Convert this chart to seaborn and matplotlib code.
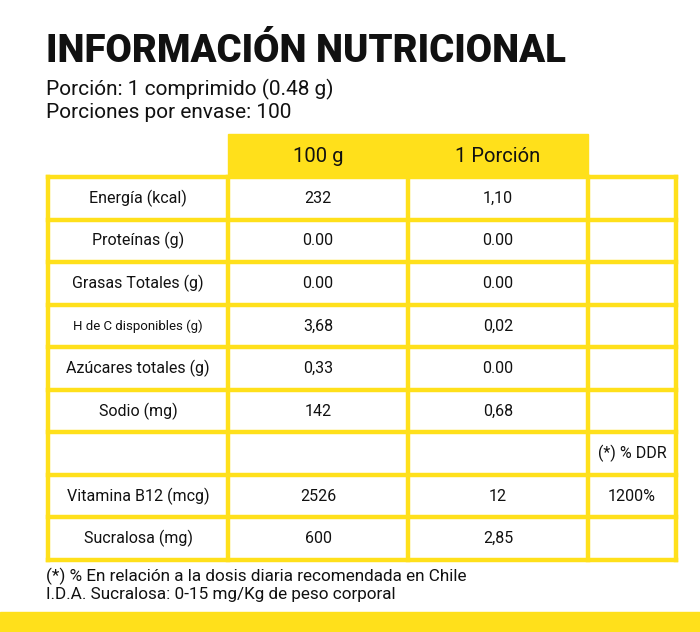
import matplotlib
matplotlib.use("Agg")
import matplotlib.pyplot as plt
from matplotlib.patches import Rectangle
import seaborn as sns

sns.set_theme(style="white")
yellow = "#FFE01B"

# data
headers = ["100 g", "1 Porción"]
nutrients = ["Energía (kcal)", "Proteínas (g)", "Grasas Totales (g)", "H de C disponibles (g)",
             "Azúcares totales (g)", "Sodio (mg)", "", "Vitamina B12 (mcg)", "Sucralosa (mg)"]
per_100g = ["232", "0.00", "0.00", "3,68", "0,33", "142", "", "2526", "600"]
per_portion = ["1,10", "0.00", "0.00", "0,02", "0.00", "0,68", "", "12", "2,85"]
ddr = ["", "", "", "", "", "", "(*) % DDR", "1200%", ""]

fig = plt.figure(figsize=(7, 6.32), dpi=100)
ax = fig.add_axes([0, 0, 1, 1])
ax.set_xlim(0, 700)
ax.set_ylim(632, 0)
ax.axis("off")

font = "Roboto"
ax.text(46, 52, "INFORMACIÓN NUTRICIONAL", fontsize=27.5, fontweight="black",
        family=font, va="center", ha="left", color="#111111")
ax.text(46, 89, "Porción: 1 comprimido (0.48 g)", fontsize=15, family=font, va="center", color="#111111")
ax.text(46, 113, "Porciones por envase: 100", fontsize=15, family=font, va="center", color="#111111")

col_x = [48, 228, 408, 588, 676]
top, bottom = 177, 560
row_h = (bottom - top) / len(nutrients)

# header band
ax.add_patch(Rectangle((col_x[1], 134), col_x[3] - col_x[1], top - 134, color=yellow, zorder=1))
for i, h in enumerate(headers):
    ax.text((col_x[i + 1] + col_x[i + 2]) / 2, 157, h, fontsize=14.5, family=font,
            ha="center", va="center", color="#111111")

columns = [nutrients, per_100g, per_portion, ddr]
for r in range(len(nutrients)):
    yc = top + row_h * (r + 0.5)
    for c, col in enumerate(columns):
        fs = 9.5 if col[r].startswith("H de C") else 11.5
        ax.text((col_x[c] + col_x[c + 1]) / 2, yc, col[r], fontsize=fs, family=font,
                ha="center", va="center", color="#111111")

lw = 3.2
for x in col_x:
    ax.plot([x, x], [top, bottom], color=yellow, lw=lw, solid_capstyle="projecting", zorder=2)
for r in range(len(nutrients) + 1):
    y = top + row_h * r
    ax.plot([col_x[0], col_x[-1]], [y, y], color=yellow, lw=lw, solid_capstyle="projecting", zorder=2)

ax.text(46, 576, "(*) % En relación a la dosis diaria recomendada en Chile", fontsize=12.3,
        family=font, va="center", color="#111111")
ax.text(46, 595, "I.D.A. Sucralosa: 0-15 mg/Kg de peso corporal", fontsize=12.3,
        family=font, va="center", color="#111111")

ax.add_patch(Rectangle((0, 612), 700, 20, color=yellow, zorder=1))

fig.savefig("out.png", dpi=100)
